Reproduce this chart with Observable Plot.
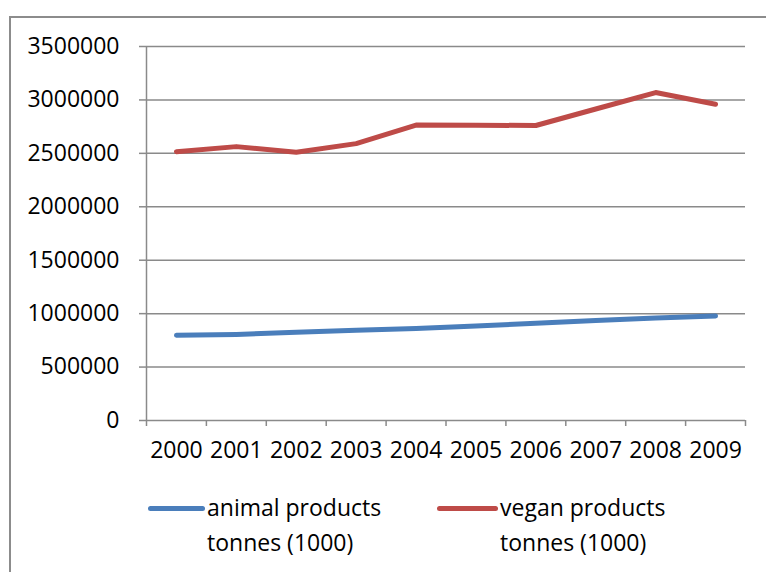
<!DOCTYPE html>
<html>
<head>
<meta charset="utf-8">
<script src="https://cdn.jsdelivr.net/npm/d3@7"></script>
<script src="https://cdn.jsdelivr.net/npm/@observablehq/plot@0.6"></script>
<style>
  html, body { margin: 0; padding: 0; background: #fff; }
  body { width: 766px; height: 572px; position: relative; overflow: hidden; font-family: "Open Sans", sans-serif; }
  #frame { position: absolute; left: 9px; top: 16px; width: 800px; height: 600px; border-left: 2px solid #8c8c8c; border-top: 2px solid #8c8c8c; box-sizing: border-box; pointer-events: none; }
  #chart { position: absolute; left: 0; top: 0; }
  .leg { position: absolute; top: 490px; font-size: 23px; line-height: 35px; color: #000; }
  .sw { position: absolute; top: 16px; height: 5px; border-radius: 3px; }
  .lt { position: absolute; left: 0; white-space: nowrap; }
</style>
</head>
<body>
<div id="chart"></div>
<div id="legend"></div>
<div id="frame"></div>
<script>
const years = [2000, 2001, 2002, 2003, 2004, 2005, 2006, 2007, 2008, 2009];
const animal = [797000, 805000, 825000, 845000, 862000, 885000, 910000, 935000, 960000, 978000];
const vegan = [2516000, 2563000, 2510000, 2591000, 2765000, 2763000, 2761000, 2915000, 3069000, 2959000];
const seriesNames = ["animal products tonnes (1000)", "vegan products tonnes (1000)"];
const seriesColors = ["#4a7ebb", "#be4b48"];
const yTicks = [0, 500000, 1000000, 1500000, 2000000, 2500000, 3000000, 3500000];

const data = [];
years.forEach((yr, i) => {
  data.push({year: yr, value: animal[i], series: seriesNames[0]});
  data.push({year: yr, value: vegan[i], series: seriesNames[1]});
});
const bounds = d3.range(years[0] - 0.5, years[years.length - 1] + 1, 1);

const plot = Plot.plot({
  width: 766,
  height: 480,
  marginLeft: 146,
  marginRight: 21,
  marginTop: 46,
  marginBottom: 60,
  style: {fontFamily: "Open Sans, sans-serif", fontSize: "23px", color: "#000", background: "transparent"},
  x: {type: "linear", domain: [bounds[0], bounds[bounds.length - 1]], axis: null, label: null},
  y: {domain: [0, 3500000], axis: null, label: null},
  color: {domain: seriesNames, range: seriesColors},
  marks: [
    Plot.ruleY(yTicks, {stroke: "#8a8a8a", strokeWidth: 1.5}),
    Plot.ruleX([bounds[0]], {stroke: "#8a8a8a", strokeWidth: 1.5}),
    Plot.axisY({ticks: yTicks, label: null, tickSize: 7, tickPadding: 20, stroke: "#8a8a8a", strokeWidth: 1.5, tickFormat: d => String(d), fill: "#000", fontSize: 23}),
    Plot.axisX({ticks: bounds, label: null, tickSize: 6, tickFormat: () => "", stroke: "#8a8a8a", strokeWidth: 1.5}),
    Plot.axisX({ticks: years, label: null, tickSize: 0, tickPadding: 21, tickFormat: d => String(d), fill: "#000", fontSize: 23}),
    Plot.line(data, {x: "year", y: "value", z: "series", stroke: "series", strokeWidth: 5, strokeLinecap: "round", strokeLinejoin: "round"})
  ]
});
document.getElementById("chart").appendChild(plot);

// legend
const legend = document.getElementById("legend");
const legPos = [{sw: 148, sww: 57, tx: 207}, {sw: 437, sww: 61, tx: 500}];
seriesNames.forEach((name, i) => {
  const words = name.split(" ");
  const line1 = words.slice(0, 2).join(" ");
  const line2 = words.slice(2).join(" ");
  const g = document.createElement("div");
  g.className = "leg";
  g.style.left = legPos[i].tx + "px";
  const sw = document.createElement("div");
  sw.className = "sw";
  sw.style.left = (legPos[i].sw - legPos[i].tx) + "px";
  sw.style.width = legPos[i].sww + "px";
  sw.style.background = seriesColors[i];
  g.appendChild(sw);
  const t1 = document.createElement("div");
  t1.className = "lt"; t1.style.top = "0px"; t1.textContent = line1;
  const t2 = document.createElement("div");
  t2.className = "lt"; t2.style.top = "35px"; t2.textContent = line2;
  g.appendChild(t1); g.appendChild(t2);
  legend.appendChild(g);
});
</script>
</body>
</html>
